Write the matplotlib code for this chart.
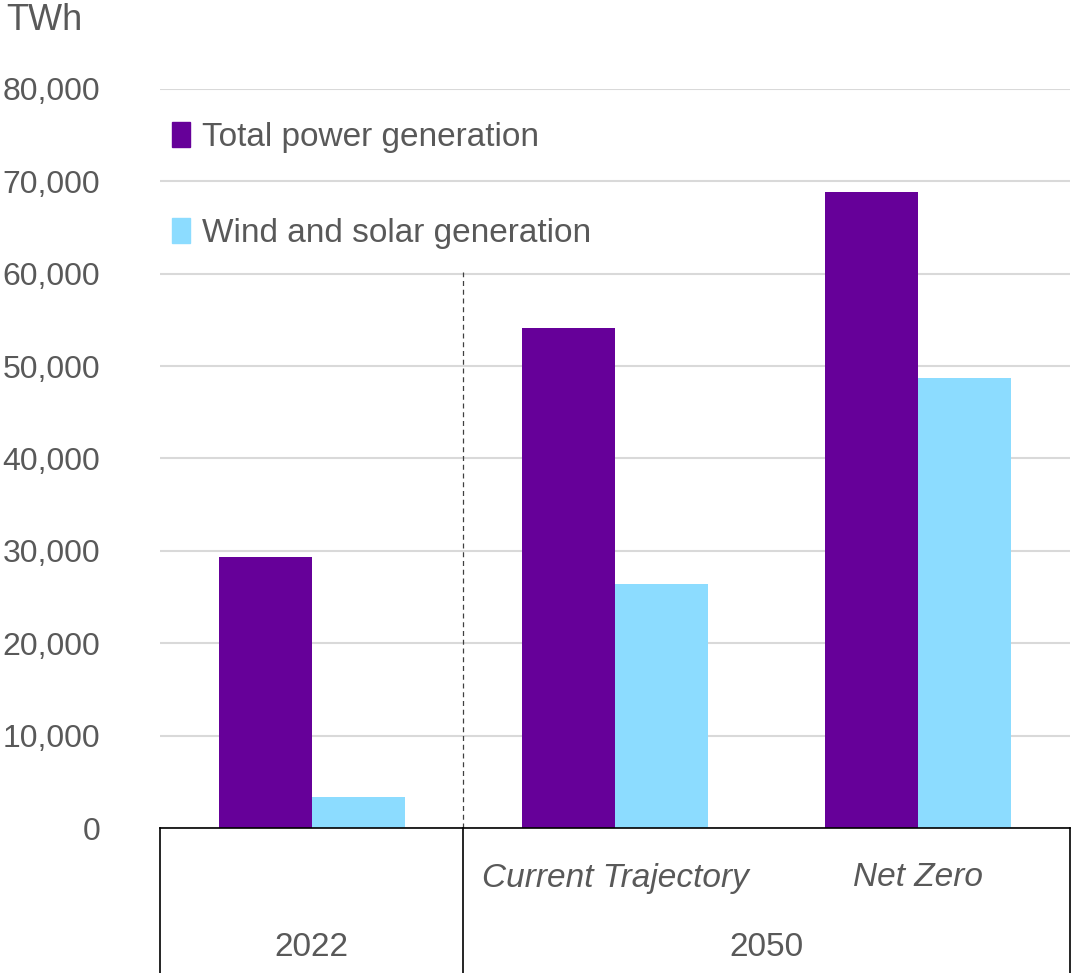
import matplotlib
matplotlib.use("Agg")
import matplotlib.pyplot as plt
from matplotlib.patches import Patch
from matplotlib.lines import Line2D
import numpy as np

plt.rcParams['font.family'] = ['Liberation Sans', 'DejaVu Sans']

scenarios = ["", "Current Trajectory", "Net Zero"]
periods = ["2022", "2050"]
total_gen = [29300, 54100, 68900]
wind_solar = [3350, 26400, 48700]
series_names = ["Total power generation", "Wind and solar generation"]
yticks = [0, 10000, 20000, 30000, 40000, 50000, 60000, 70000, 80000]

PURPLE = "#660099"
BLUE = "#8CDCFF"
GRAY = "#595959"
FS = 24

fig = plt.figure(figsize=(10.71, 9.73), dpi=100)
L, R = 160 / 1071, 1070 / 1071
B = 1 - 828 / 973
T = 1 - 89 / 973
ax = fig.add_axes([L, B, R - L, T - B])

x = np.arange(len(scenarios))
w = 0.307
ax.bar(x - w / 2, total_gen, w, color=PURPLE, zorder=3)
ax.bar(x + w / 2, wind_solar, w, color=BLUE, zorder=3)

ax.set_xlim(-0.5, 2.5)
ax.set_ylim(0, 80000)
ax.set_yticks(yticks)
ax.set_yticklabels([f"{v:,}" for v in yticks], fontsize=23, color=GRAY)
ax.tick_params(axis='y', length=0, pad=43)
ax.set_xticks([])
ax.grid(axis='y', color="#d9d9d9", linewidth=1.5, zorder=0)
for s in ["top", "right", "left"]:
    ax.spines[s].set_visible(False)
ax.spines["bottom"].set_color("black")
ax.spines["bottom"].set_linewidth(1.2)
ax.spines["bottom"].set_zorder(4)

# dashed separator
ax.plot([0.5, 0.5], [0, 60200], color="#404040", linestyle=(0, (4, 3)), linewidth=0.9, zorder=2)

# category table below axis
tr = ax.get_xaxis_transform()
ybot = -(973 - 828) / (828 - 89) - 0.01
for xv in [-0.5, 0.5, 2.5]:
    ax.add_line(Line2D([xv, xv], [0, ybot], transform=tr, color="black", linewidth=1.2, clip_on=False))

for i, s in enumerate(scenarios):
    if s:
        ax.text(i, -50 / 739, s, transform=tr, ha="center", va="center", fontsize=FS,
                color=GRAY, style="italic")
ax.text(0, -120 / 739, periods[0], transform=tr, ha="center", va="center", fontsize=FS, color=GRAY)
ax.text(1.5, -120 / 739, periods[1], transform=tr, ha="center", va="center", fontsize=FS, color=GRAY)

fig.text(6 / 1071, 1 - 20 / 973, "TWh", ha="left", va="center", fontsize=26, color=GRAY)

handles = [Patch(color=PURPLE), Patch(color=BLUE)]
leg = ax.legend(handles, series_names, loc="upper left",
                bbox_to_anchor=(162 / 1071, 1 - 112 / 973), bbox_transform=fig.transFigure,
                frameon=False, fontsize=FS, handlelength=0.55, handleheight=0.75,
                handletextpad=0.35, labelspacing=1.95, borderaxespad=0, borderpad=0.3)
for t in leg.get_texts():
    t.set_color(GRAY)

fig.savefig("out.png", dpi=100)
